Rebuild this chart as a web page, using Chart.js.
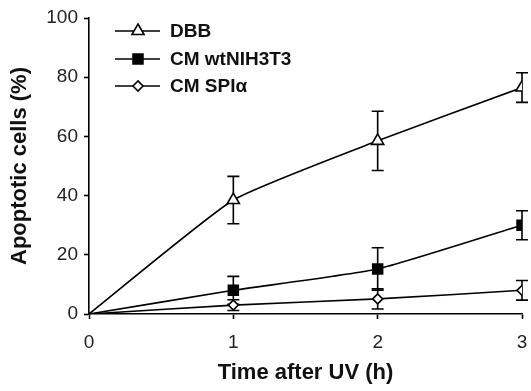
<!DOCTYPE html>
<html>
<head>
<meta charset="utf-8">
<script src="https://cdn.jsdelivr.net/npm/chart.js@4/dist/chart.umd.min.js"></script>
<style>
  html, body { margin: 0; padding: 0; background: #fff; }
  #wrap { width: 531px; height: 391px; position: relative; }
</style>
</head>
<body>
<div id="wrap"><canvas id="c" width="531" height="391"></canvas></div>
<script>
// ---- data ----
const timeHours = [0, 1, 2, 3];
const seriesNames = ['DBB', 'CM wtNIH3T3', 'CM SPI\u03B1'];
const dbbValues = [0, 38.5, 58.5, 76.5];
const dbbErrors = [0, 8, 10, 5];
const cmWtValues = [0, 8, 15.2, 30];
const cmWtErrors = [0, 4.7, 7.2, 4.9];
const cmSpiValues = [0, 3, 5.1, 8];
const cmSpiErrors = [0, 1.8, 3.4, 3.3];
const yTicks = [0, 20, 40, 60, 80, 100];
const xTicks = [0, 1, 2, 3];

const toPts = (vals) => timeHours.map((t, i) => ({ x: t, y: vals[i] }));

const errorBarPlugin = {
  id: 'errorBars',
  beforeDatasetsDraw(chart) {
    const { ctx, scales: { x, y } } = chart;
    ctx.save();
    ctx.strokeStyle = '#000';
    ctx.lineWidth = 1.6;
    chart.data.datasets.forEach((ds) => {
      if (!ds.errors) return;
      ds.data.forEach((p, i) => {
        const e = ds.errors[i];
        if (!e) return;
        const px = x.getPixelForValue(p.x);
        const top = y.getPixelForValue(p.y + e);
        const bot = y.getPixelForValue(Math.max(0, p.y - e));
        const cap = 6;
        ctx.beginPath();
        ctx.moveTo(px, top); ctx.lineTo(px, bot);
        ctx.moveTo(px - cap, top); ctx.lineTo(px + cap, top);
        ctx.moveTo(px - cap, bot); ctx.lineTo(px + cap, bot);
        ctx.stroke();
      });
    });
    ctx.restore();
  }
};

const legendPlugin = {
  id: 'customLegend',
  afterDraw(chart) {
    const { ctx } = chart;
    const rows = [31, 59, 86];
    chart.data.datasets.forEach((ds, i) => {
      const yy = rows[i];
      ctx.save();
      ctx.strokeStyle = '#000';
      ctx.lineWidth = 1.6;
      ctx.beginPath();
      ctx.moveTo(115, yy); ctx.lineTo(160, yy);
      ctx.stroke();
      ctx.fillStyle = ds.pointBackgroundColor;
      Chart.helpers.drawPoint(ctx, {
        pointStyle: ds.pointStyle,
        radius: ds.legendRadius,
        rotation: 0,
        borderWidth: 1.6
      }, 138, yy);
      ctx.fillStyle = '#111';
      ctx.font = 'bold 19px "Liberation Sans", Arial, sans-serif';
      ctx.textBaseline = 'middle';
      ctx.textAlign = 'left';
      ctx.fillText(ds.label, 170, yy + 1);
      ctx.restore();
    });
  }
};

const mk = (label, vals, errs, style, radius, fill) => ({
  label,
  data: toPts(vals),
  errors: errs,
  borderColor: '#000',
  borderWidth: 1.6,
  pointStyle: style,
  pointRadius: timeHours.map((t, i) => i === 0 ? 0 : radius),
  pointHoverRadius: timeHours.map((t, i) => i === 0 ? 0 : radius),
  legendRadius: radius,
  pointBackgroundColor: fill,
  pointBorderColor: '#000',
  pointBorderWidth: 1.6,
  tension: 0.15,
  fill: false
});

new Chart(document.getElementById('c'), {
  type: 'line',
  data: {
    datasets: [
      mk(seriesNames[0], dbbValues, dbbErrors, 'triangle', 7, '#fff'),
      mk(seriesNames[1], cmWtValues, cmWtErrors, 'rect', 7, '#000'),
      mk(seriesNames[2], cmSpiValues, cmSpiErrors, 'rectRot', 5, '#fff')
    ]
  },
  options: {
    responsive: false,
    animation: false,
    layout: { padding: { left: 0, top: 18, right: 9, bottom: 0 } },
    plugins: { legend: { display: false }, tooltip: { enabled: false } },
    scales: {
      x: {
        type: 'linear',
        min: 0, max: 3,
        afterFit(s) { s.height = 77; s.paddingRight = 0; s.paddingLeft = 0; },
        afterBuildTicks(s) { s.ticks = xTicks.map(v => ({ value: v })); },
        grid: { drawOnChartArea: false, drawTicks: true, tickLength: 5, color: '#000', tickWidth: 1.6 },
        border: { color: '#000', width: 1.6 },
        ticks: { color: '#222', padding: 12, font: { family: '"Liberation Sans", Arial, sans-serif', size: 19 } },
        title: { display: true, text: 'Time after UV (h)', color: '#111',
          padding: { top: 0, bottom: 5 },
          font: { family: '"Liberation Sans", Arial, sans-serif', size: 22, weight: 'bold' } }
      },
      y: {
        min: 0, max: 100,
        afterFit(s) { s.width = 89; s.paddingTop = 0; s.paddingBottom = 0; },
        afterBuildTicks(s) { s.ticks = yTicks.map(v => ({ value: v })); },
        grid: { drawOnChartArea: false, drawTicks: true, tickLength: 5, color: '#000', tickWidth: 1.6 },
        border: { color: '#000', width: 1.6 },
        ticks: { color: '#222', padding: 6, font: { family: '"Liberation Sans", Arial, sans-serif', size: 19 } },
        title: { display: true, text: 'Apoptotic cells (%)', color: '#111',
          padding: { top: 7, bottom: 0 },
          font: { family: '"Liberation Sans", Arial, sans-serif', size: 22, weight: 'bold' } }
      }
    }
  },
  plugins: [errorBarPlugin, legendPlugin]
});
</script>
</body>
</html>
